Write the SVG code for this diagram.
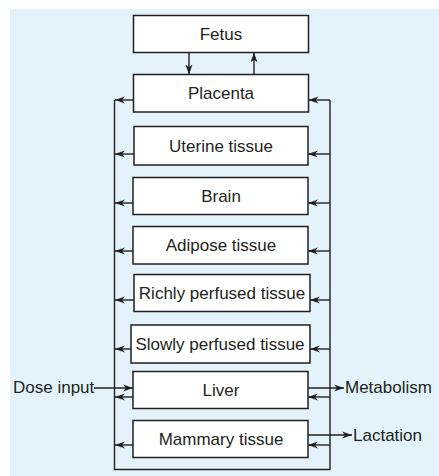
<svg xmlns="http://www.w3.org/2000/svg" width="439" height="476" viewBox="0 0 439 476">
<defs>
<marker id="ah" markerUnits="userSpaceOnUse" markerWidth="11" markerHeight="8" refX="10" refY="4" orient="auto">
<path d="M0,0.5 L10,4 L0,7.5 L3,4 Z" fill="#231f20"/>
</marker>
<style>
.box{fill:#fff;stroke:#231f20;stroke-width:1.5}
.t{font-family:"Liberation Sans",Arial,sans-serif;font-size:17px;fill:#231f20}
.c{text-anchor:middle}
.ln{fill:none;stroke:#231f20;stroke-width:1.4}
.ar{fill:none;stroke:#231f20;stroke-width:1.4;marker-end:url(#ah)}
</style>
</defs>
<rect x="10" y="9" width="429" height="467" fill="#e4f3fb"/>
<g id="connectors">
<line class="ar" x1="189" y1="52.5" x2="189" y2="74.5"/>
<line class="ar" x1="254" y1="74.5" x2="254" y2="52.5"/>
<polyline class="ln" points="114.5,100 114.5,469.5 330,469.5 330,100"/>
<line class="ar" x1="133.5" y1="100" x2="115" y2="100"/>
<line class="ar" x1="134" y1="154" x2="115" y2="154"/>
<line class="ar" x1="133" y1="203" x2="115" y2="203"/>
<line class="ar" x1="133" y1="251" x2="115" y2="251"/>
<line class="ar" x1="134" y1="300" x2="115" y2="300"/>
<line class="ar" x1="131" y1="349" x2="115" y2="349"/>
<line class="ar" x1="133" y1="397" x2="115" y2="397"/>
<line class="ar" x1="133" y1="445" x2="115" y2="445"/>
<line class="ar" x1="330" y1="100" x2="308.5" y2="100"/>
<line class="ar" x1="330" y1="154" x2="308" y2="154"/>
<line class="ar" x1="330" y1="203" x2="308" y2="203"/>
<line class="ar" x1="330" y1="251" x2="308" y2="251"/>
<line class="ar" x1="330" y1="300" x2="310" y2="300"/>
<line class="ar" x1="330" y1="349" x2="310" y2="349"/>
<line class="ar" x1="330" y1="397" x2="308" y2="397"/>
<line class="ar" x1="330" y1="445" x2="308" y2="445"/>
<line class="ar" x1="94" y1="388" x2="133" y2="388"/>
<line class="ar" x1="308" y1="388" x2="344" y2="388"/>
<line class="ar" x1="308" y1="435" x2="352" y2="435"/>
</g>
<g id="fetus"><rect class="box" x="133.5" y="15.5" width="175" height="37"/><text class="t c" x="221" y="39.5">Fetus</text></g>
<g id="placenta"><rect class="box" x="133.5" y="74.5" width="175" height="37.5"/><text class="t c" x="221" y="99">Placenta</text></g>
<g id="uterine"><rect class="box" x="134" y="126.5" width="174" height="38.5"/><text class="t c" x="221" y="151.5">Uterine tissue</text></g>
<g id="brain"><rect class="box" x="133" y="177.5" width="175" height="37"/><text class="t c" x="221" y="201.5">Brain</text></g>
<g id="adipose"><rect class="box" x="133" y="226.5" width="175" height="37.5"/><text class="t c" x="221" y="251">Adipose tissue</text></g>
<g id="richly"><rect class="box" x="134" y="274.5" width="176" height="37"/><text class="t c" x="222" y="298.5">Richly perfused tissue</text></g>
<g id="slowly"><rect class="box" x="131" y="325" width="179" height="38"/><text class="t c" x="220" y="349.5">Slowly perfused tissue</text></g>
<g id="liver"><rect class="box" x="133" y="371.5" width="175" height="37"/><text class="t c" x="221" y="395.5">Liver</text></g>
<g id="mammary"><rect class="box" x="133" y="420.5" width="175" height="37"/><text class="t c" x="221" y="444.5">Mammary tissue</text></g>
<g id="dose"><text class="t" x="13" y="393">Dose input</text></g>
<g id="metabolism"><text class="t" x="345" y="393">Metabolism</text></g>
<g id="lactation"><text class="t" x="353" y="440.5">Lactation</text></g>
</svg>
